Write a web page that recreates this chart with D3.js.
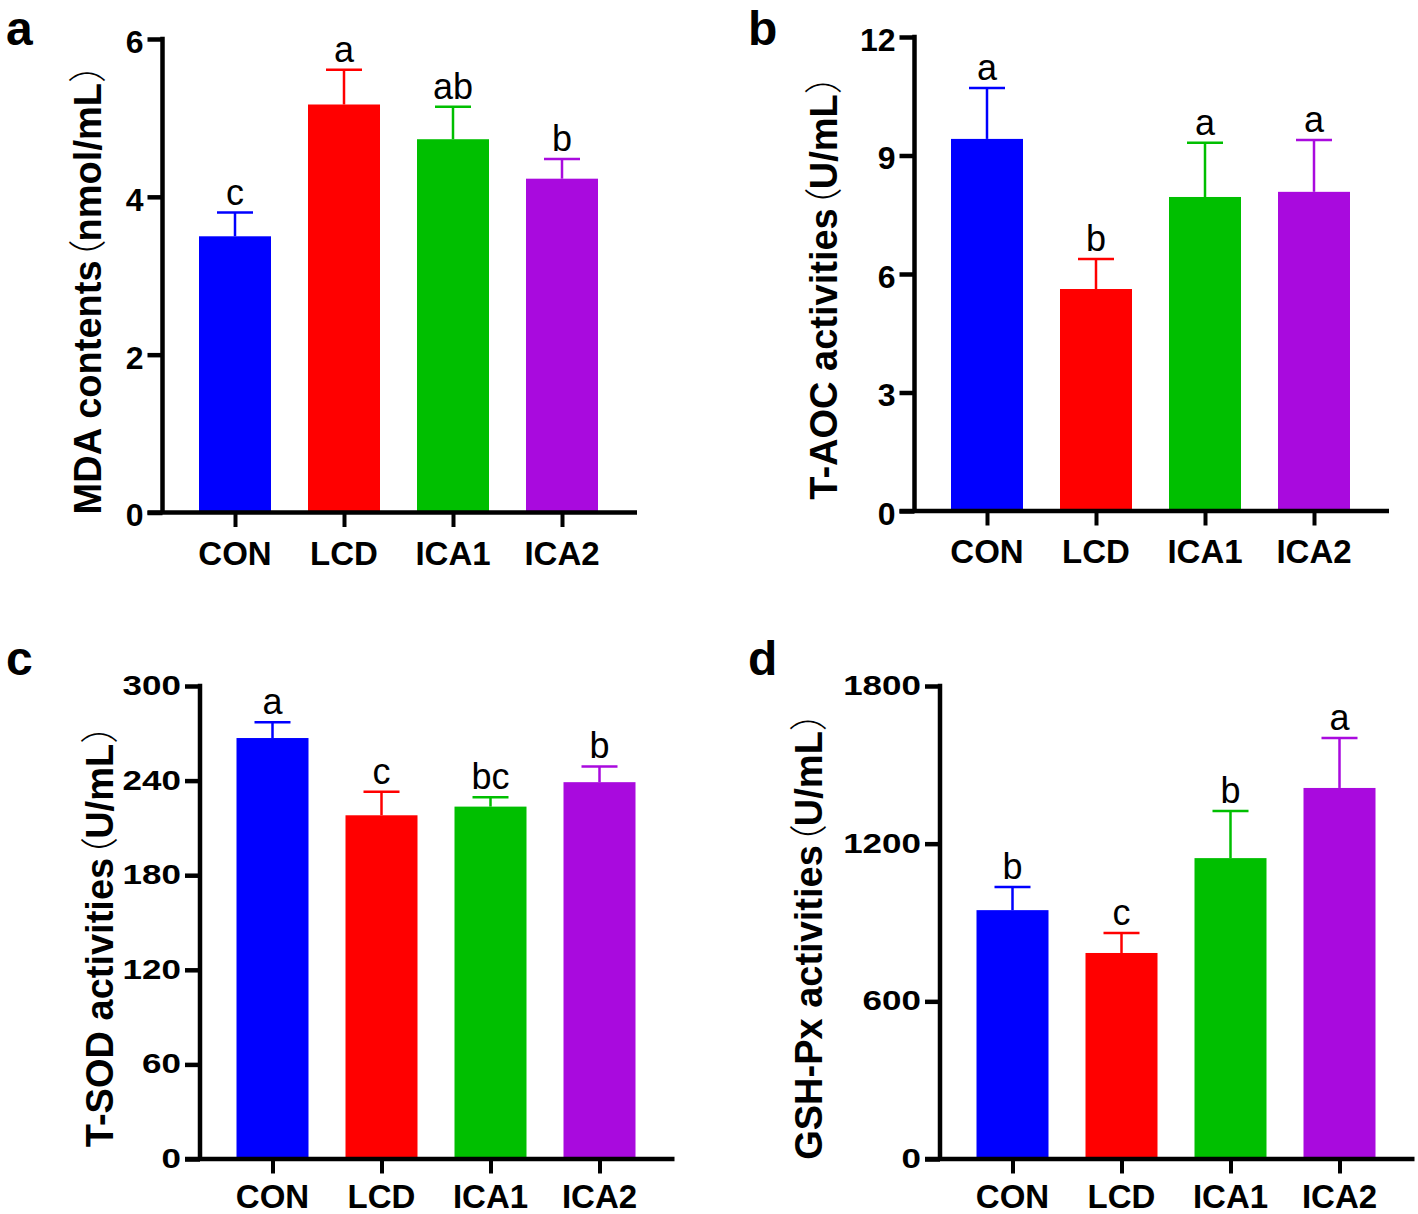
<!DOCTYPE html>
<html>
<head>
<meta charset="utf-8">
<script src="https://cdn.jsdelivr.net/npm/d3@7/dist/d3.min.js"></script>
<style>
  html, body { margin: 0; padding: 0; background: #ffffff; }
  svg { display: block; }
</style>
</head>
<body>
<svg id="chart" width="1418" height="1214"></svg>
<script>
// ---------------- data ----------------
const categories = ["CON", "LCD", "ICA1", "ICA2"];

const mdaMean    = [3.50, 5.17, 4.73, 4.23];
const mdaErr     = [0.30, 0.44, 0.41, 0.25];
const mdaLetters = ["c", "a", "ab", "b"];
const mdaTicks   = [0, 2, 4, 6];

const taocMean    = [9.42, 5.62, 7.95, 8.08];
const taocErr     = [1.29, 0.76, 1.37, 1.31];
const taocLetters = ["a", "b", "a", "a"];
const taocTicks   = [0, 3, 6, 9, 12];

const sodMean    = [267, 218, 223.5, 239];
const sodErr     = [10, 15, 6, 10];
const sodLetters = ["a", "c", "bc", "b"];
const sodTicks   = [0, 60, 120, 180, 240, 300];

const gshMean    = [947, 784, 1145, 1412];
const gshErr     = [88, 76, 179, 190];
const gshLetters = ["b", "c", "b", "a"];
const gshTicks   = [0, 600, 1200, 1800];

const panelLabels = ["a", "b", "c", "d"];
const yTitles = [
  ["MDA contents", "nmol/mL"],
  ["T-AOC activities", "U/mL"],
  ["T-SOD activities", "U/mL"],
  ["GSH-Px activities", "U/mL"]
];

// ---------------- styles / layout ----------------
const barColors = ["#0000ff", "#ff0000", "#00bf00", "#a90ade"];
const FONT = "'Liberation Sans', Arial, Helvetica, sans-serif";

const panels = [
  { mean: mdaMean,  err: mdaErr,  letters: mdaLetters,  ticks: mdaTicks,
    axisX: 162.5, zeroY: 512.5, topY: 39,  labelX: 6,   labelY: 45,
    titleX: 101, tickFont: 32, tickScale: 1, catY: 565 },
  { mean: taocMean, err: taocErr, letters: taocLetters, ticks: taocTicks,
    axisX: 914.5, zeroY: 511,   topY: 37,  labelX: 748, labelY: 45,
    titleX: 837, tickFont: 32, tickScale: 1, catY: 563 },
  { mean: sodMean,  err: sodErr,  letters: sodLetters,  ticks: sodTicks,
    axisX: 200,   zeroY: 1159,  topY: 686, labelX: 6,   labelY: 675,
    titleX: 113, tickFont: 28, tickScale: 1.25, catY: 1208 },
  { mean: gshMean,  err: gshErr,  letters: gshLetters,  ticks: gshTicks,
    axisX: 940,   zeroY: 1159,  topY: 686, labelX: 748, labelY: 675,
    titleX: 822, tickFont: 28, tickScale: 1.25, catY: 1208 }
];

const firstOffset = 72.5;  // axis -> first bar center
const step = 109;
const barW = 72;
const capW = 36;
const tickLen = 15;
const axisW = 4.5;
const rightExtra = 75;

const svg = d3.select("#chart");

panels.forEach((p, i) => {
  const g = svg.append("g");
  const n = categories.length;
  const x = d3.scalePoint()
    .domain(categories)
    .range([p.axisX + firstOffset, p.axisX + firstOffset + step * (n - 1)]);
  const yMax = p.ticks[p.ticks.length - 1];
  const y = d3.scaleLinear().domain([0, yMax]).range([p.zeroY, p.topY]);

  // bars
  g.selectAll("rect.bar").data(categories).join("rect")
    .attr("x", d => x(d) - barW / 2)
    .attr("width", barW)
    .attr("y", (d, j) => y(p.mean[j]))
    .attr("height", (d, j) => y(0) - y(p.mean[j]))
    .attr("fill", (d, j) => barColors[j]);

  // error bars (upper only)
  g.selectAll("line.err").data(categories).join("line")
    .attr("x1", d => x(d)).attr("x2", d => x(d))
    .attr("y1", (d, j) => y(p.mean[j]))
    .attr("y2", (d, j) => y(p.mean[j] + p.err[j]))
    .attr("stroke", (d, j) => barColors[j]).attr("stroke-width", 2.5);
  g.selectAll("line.cap").data(categories).join("line")
    .attr("x1", d => x(d) - capW / 2).attr("x2", d => x(d) + capW / 2)
    .attr("y1", (d, j) => y(p.mean[j] + p.err[j]))
    .attr("y2", (d, j) => y(p.mean[j] + p.err[j]))
    .attr("stroke", (d, j) => barColors[j]).attr("stroke-width", 2.5);

  // significance letters
  g.selectAll("text.sig").data(categories).join("text")
    .attr("x", d => x(d))
    .attr("y", (d, j) => y(p.mean[j] + p.err[j]) - 8)
    .attr("text-anchor", "middle")
    .attr("font-family", FONT).attr("font-size", 36)
    .attr("fill", "#000")
    .text((d, j) => p.letters[j]);

  // y axis
  const yAxis = d3.axisLeft(y).tickValues(p.ticks).tickSize(tickLen).tickSizeOuter(0)
    .tickFormat(d3.format("d"));
  const ya = g.append("g").attr("transform", `translate(${p.axisX},0)`).call(yAxis);
  ya.select(".domain").remove();
  ya.selectAll(".tick line").attr("stroke", "#000").attr("stroke-width", axisW);
  ya.selectAll(".tick text")
    .attr("font-family", FONT).attr("font-weight", "bold")
    .attr("font-size", p.tickFont).attr("fill", "#000")
    .attr("x", -(tickLen + 4) / p.tickScale)
    .attr("dy", p.tickScale === 1 ? "0.42em" : "0.3em")
    .attr("transform", `scale(${p.tickScale},1)`);
  // vertical axis line
  g.append("line")
    .attr("x1", p.axisX).attr("x2", p.axisX)
    .attr("y1", y(yMax) - axisW / 2).attr("y2", y(0))
    .attr("stroke", "#000").attr("stroke-width", axisW);

  // x axis
  const xAxis = d3.axisBottom(x).tickSize(14.5).tickSizeOuter(0);
  const xa = g.append("g").attr("transform", `translate(0,${p.zeroY})`).call(xAxis);
  xa.select(".domain").remove();
  xa.selectAll(".tick line").attr("stroke", "#000").attr("stroke-width", 4);
  xa.selectAll(".tick text").remove();
  g.append("line")
    .attr("x1", p.axisX - tickLen).attr("x2", x(categories[n - 1]) + rightExtra)
    .attr("y1", y(0)).attr("y2", y(0))
    .attr("stroke", "#000").attr("stroke-width", axisW);

  // category labels
  g.selectAll("text.cat").data(categories).join("text")
    .attr("x", d => x(d)).attr("y", p.catY)
    .attr("text-anchor", "middle")
    .attr("font-family", FONT).attr("font-weight", "bold").attr("font-size", 33)
    .attr("fill", "#000")
    .text(d => d);

  // y title
  const cy = (p.zeroY + p.topY) / 2 + 4;
  const t = g.append("text")
    .attr("transform", `translate(${p.titleX},${cy}) rotate(-90)`)
    .attr("text-anchor", "middle")
    .attr("font-family", FONT).attr("font-weight", "bold").attr("font-size", 38)
    .attr("fill", "#000");
  t.append("tspan").text(yTitles[i][0]);
  t.append("tspan").attr("font-family", "'Noto Sans CJK SC', sans-serif")
    .attr("font-weight", 300).attr("dx", "-0.45em").text("（");
  t.append("tspan").attr("dx", "-0.05em").text(yTitles[i][1]);
  t.append("tspan").attr("font-family", "'Noto Sans CJK SC', sans-serif")
    .attr("font-weight", 300).text("）");

  // panel label
  g.append("text")
    .attr("x", p.labelX).attr("y", p.labelY)
    .attr("font-family", FONT).attr("font-weight", "bold").attr("font-size", 48)
    .attr("fill", "#000")
    .text(panelLabels[i]);
});
</script>
</body>
</html>
